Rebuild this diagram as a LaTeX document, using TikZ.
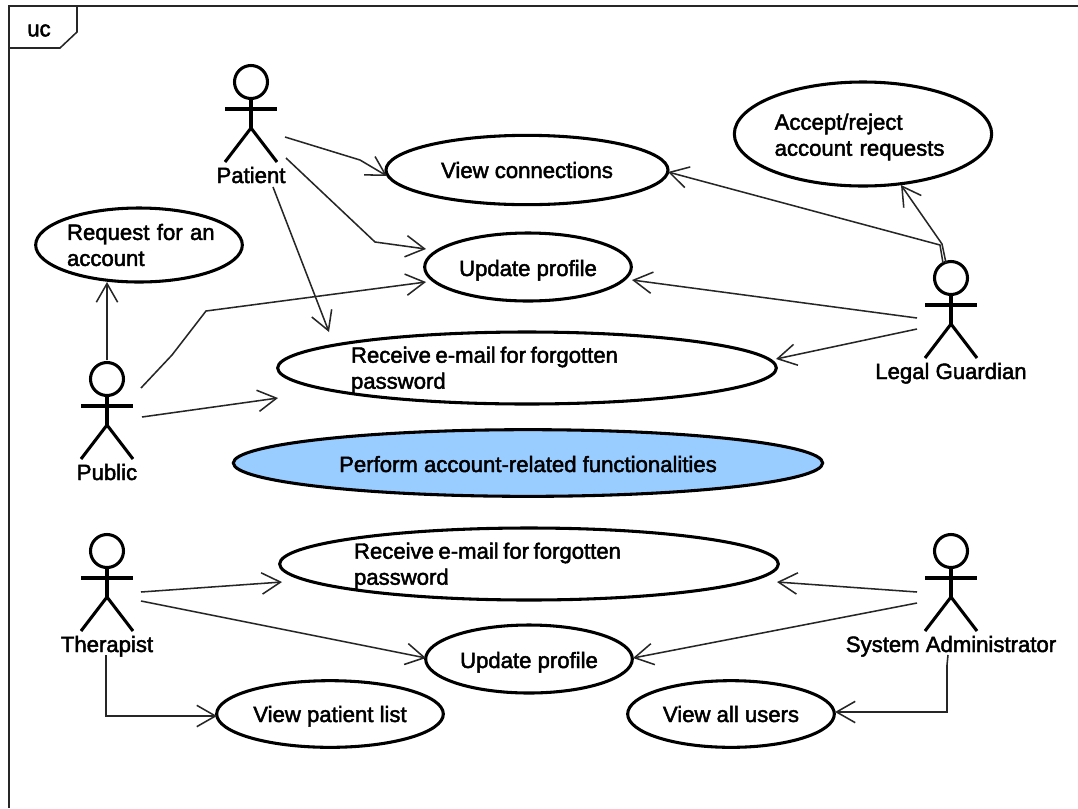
\documentclass[tikz,border=0pt]{standalone}
\usepackage{fontspec}
\setmainfont{Liberation Sans}
\usetikzlibrary{arrows.meta,shapes.geometric}
\newcommand{\umlsize}{\fontsize{16.6}{19.5}\selectfont\special{pdf:code 2 Tr 0.35 w}}
\newcommand{\low}[2]{\raisebox{-#1pt}[0pt][0pt]{#2}}
\tikzset{
  x=0.75pt,y=-0.75pt,
  usecase/.style={draw=black,line width=2.3pt,ellipse,inner sep=0pt,fill=white,font=\umlsize,text=black},
  casetext/.style={font=\umlsize,align=left,inner sep=0pt},
  actorbox/.style={inner sep=0pt,minimum width=39pt,minimum height=60pt},
  actorname/.style={font=\umlsize,inner sep=0pt,anchor=base},
  actorline/.style={line width=2.3pt,draw=black},
  assoc/.style={draw=black!85,line width=1.15pt,-{Straight Barb[length=14pt,width=16pt]}},
  frameline/.style={draw=black!85,line width=1.15pt},
}
% cx, head cy, node name, label
\newcommand{\umlactor}[4]{%
  \draw[actorline] (#1,#2) circle[radius=16.5];
  \draw[actorline] (#1,#2+16.5) -- (#1,#2+46);
  \draw[actorline] (#1-26,#2+27) -- (#1+26,#2+27);
  \draw[actorline] (#1-26,#2+80) -- (#1,#2+46) -- (#1+26,#2+80);
  \node[actorbox] (#3) at (#1,#2+31) {};
  \node[actorname] (#3label) at (#1,#2+101) {#4};
}
\newcommand{\off}[3]{([shift={(#2,#3)}]#1.center)}
\begin{document}
\begin{tikzpicture}
\useasboundingbox (0,0) rectangle (1078,808);
\fill[white] (0,0) rectangle (1078,808);
% frame
\draw[frameline] (9,808) -- (9,6) -- (1078,6);
\draw[frameline] (9,48) -- (60,48) -- (77,32) -- (77,6);
\node[casetext] (uc) at (39,30.5) {uc};
% use cases
\node[usecase,minimum width=155pt,minimum height=55.5pt] (request) at (139,245) {};
\node[casetext,text width=112pt] at (141.7,245) {Request for an\\account};
\node[usecase,minimum width=211.5pt,minimum height=52pt] (viewconn) at (527,170) {\low{6}{View connections}};
\node[usecase,minimum width=193pt,minimum height=78pt] (accept) at (863,134) {};
\node[casetext,text width=128pt] at (860,137) {Accept/reject\\account requests};
\node[usecase,minimum width=155pt,minimum height=51pt] (update1) at (528,267) {\low{6.75}{Update profile}};
\node[usecase,minimum width=374pt,minimum height=54pt] (receive1) at (527,368) {};
\node[casetext,text width=264pt] at (527,370) {\spaceskip=3.4pt Receive e-mail for forgotten\\password};
\node[usecase,minimum width=442pt,minimum height=50pt,fill={rgb,255:red,153;green,204;blue,255}] (perform) at (528,463) {\low{6.75}{Perform account-related functionalities}};
\node[usecase,minimum width=374pt,minimum height=54pt] (receive2) at (529,564) {};
\node[casetext,text width=264pt] at (530,566) {\spaceskip=3.4pt Receive e-mail for forgotten\\password};
\node[usecase,minimum width=155pt,minimum height=51pt] (update2) at (529,659) {\low{6.75}{Update profile}};
\node[usecase,minimum width=170pt,minimum height=50pt] (patlist) at (330,714) {\low{6}{View patient list}};
\node[usecase,minimum width=155pt,minimum height=50pt] (allusers) at (731,714) {\low{6}{View all users}};
% actors
\umlactor{251}{82}{patient}{Patient}
\umlactor{107}{379}{public}{Public}
\umlactor{951}{278}{guardian}{Legal Guardian}
\umlactor{107}{551}{therapist}{Therapist}
\umlactor{951}{551}{admin}{System Administrator}
% connectors: offsets from node centres
\draw[assoc] \off{patient}{34}{24} -- (360,160) -- \off{viewconn}{-140}{6};
\draw[assoc] \off{patient}{35}{45} -- (375,242) -- \off{update1}{-102}{-18};
\draw[assoc] \off{patient}{22}{74} -- \off{receive1}{-198}{-36};
\draw[assoc] \off{public}{34}{-22} -- (172,355) -- (206,311) -- \off{update1}{-102}{15};
\draw[assoc] \off{public}{35}{7} -- \off{receive1}{-249}{30};
\draw[assoc] \off{public}{0}{-50} -- \off{request}{-32}{37};
\draw[assoc] \off{guardian}{-8}{-46} -- (940,245) -- \off{viewconn}{141}{2};
\draw[assoc] \off{guardian}{-5}{-46} -- (942,244) -- \off{accept}{38}{51};
\draw[assoc] \off{guardian}{-34}{9} -- \off{update1}{104}{13};
\draw[assoc] \off{guardian}{-34}{20} -- \off{receive1}{249}{-9};
\draw[assoc] \off{therapist}{34}{10} -- \off{receive2}{-247}{18};
\draw[assoc] \off{therapist}{34}{19} -- \off{update2}{-103}{-1};
\draw[assoc] \off{therapist}{-1}{73} -- (106,716) -- \off{patlist}{-113}{2};
\draw[assoc] \off{admin}{-34}{10} -- \off{receive2}{248}{18};
\draw[assoc] \off{admin}{-34}{21} -- \off{update2}{104}{-1};
\draw[assoc] \off{admin}{-3}{73} -- (947,665) -- (947,712) -- \off{allusers}{104}{-2};
\end{tikzpicture}
\end{document}
